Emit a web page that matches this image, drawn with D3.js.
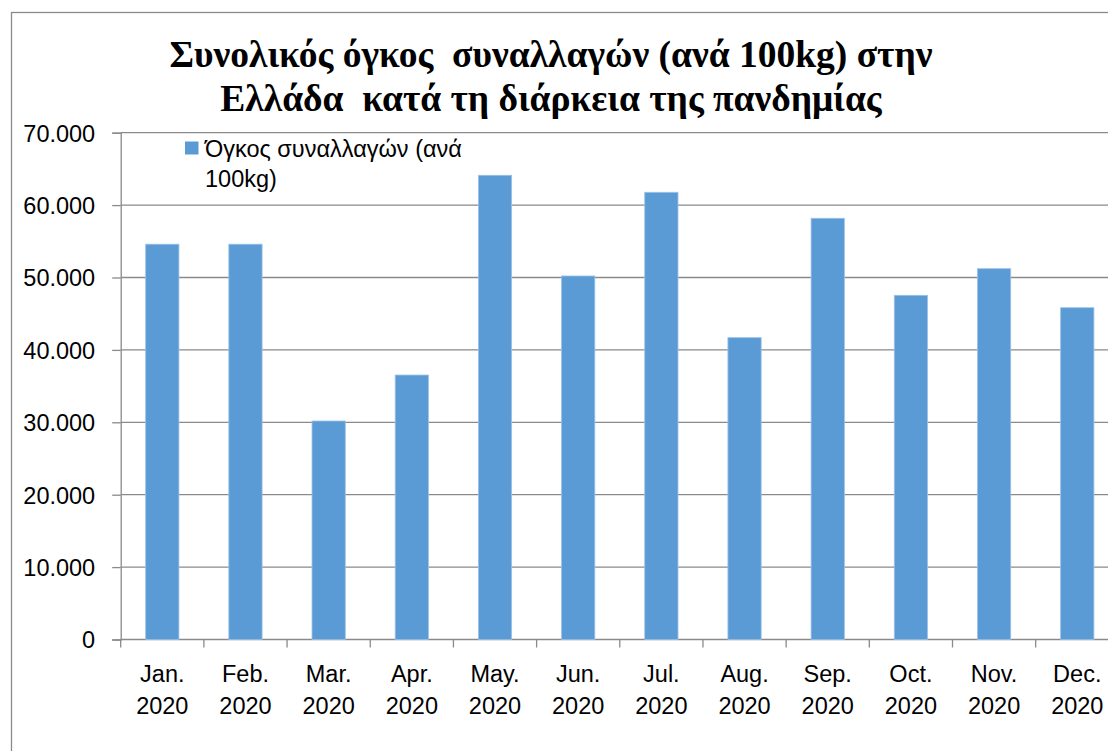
<!DOCTYPE html>
<html lang="el">
<head>
<meta charset="UTF-8">
<title>Συνολικός όγκος συναλλαγών</title>
<style>
  html, body { margin: 0; padding: 0; background: #fff; }
  svg { display: block; }
  .title { font-family: "Liberation Serif", "Times New Roman", serif; font-weight: bold; font-size: 37.5px; white-space: pre; }
  .lbl { font-family: "Liberation Sans", Arial, sans-serif; font-size: 23.5px; fill: #000; }
</style>
</head>
<body>
<svg id="chart"></svg>
<script src="https://cdn.jsdelivr.net/npm/d3@7"></script>
<script>
// data
const months = ["Jan.", "Feb.", "Mar.", "Apr.", "May.", "Jun.", "Jul.", "Aug.", "Sep.", "Oct.", "Nov.", "Dec."];
const year = "2020";
const volumes = [54600, 54600, 30180, 36530, 64120, 50210, 61770, 41690, 58180, 47540, 51220, 45830];
const yTicks = [0, 10000, 20000, 30000, 40000, 50000, 60000, 70000];
const titleLines = ["Συνολικός όγκος  συναλλαγών (ανά 100kg) στην", "Ελλάδα  κατά τη διάρκεια της πανδημίας"];
const legendLines = ["Όγκος συναλλαγών (ανά", "100kg)"];

const width = 1108, height = 751;
const plotLeft = 120.7, step = 83.18;
const plotRight = plotLeft + months.length * step;   // plot runs past the picture edge
const plotTop = 132.7, plotBottom = 639.5;
const grid = "#8a8a8a";
const barColor = "#5b9bd5";

const fmt = d3.formatLocale({decimal: ",", thousands: ".", grouping: [3], currency: ["", "€"]}).format(",");

const svg = d3.select("#chart").attr("width", width).attr("height", height);

// outer chart frame (cut at the right and bottom)
svg.append("rect")
  .attr("x", 11.5).attr("y", 12.5)
  .attr("width", 1300).attr("height", 900)
  .attr("fill", "none").attr("stroke", grid).attr("stroke-width", 1.3);

const x = d3.scaleBand().domain(months).range([plotLeft, plotRight]).paddingInner(0.6).paddingOuter(0.3);
const y = d3.scaleLinear().domain([0, 70000]).range([plotBottom, plotTop]);

// gridlines
svg.append("g")
  .selectAll("line")
  .data(yTicks)
  .join("line")
  .attr("x1", plotLeft).attr("x2", plotRight)
  .attr("y1", d => y(d)).attr("y2", d => y(d))
  .attr("stroke", grid).attr("stroke-width", 1.3);

// bars
svg.append("g")
  .selectAll("rect")
  .data(volumes)
  .join("rect")
  .attr("x", (d, i) => x(months[i]))
  .attr("y", d => y(d))
  .attr("width", x.bandwidth())
  .attr("height", d => y(0) - y(d))
  .attr("fill", barColor)
  .attr("stroke", "#9cc2e8").attr("stroke-width", 0.8);

// y axis
const yAxis = svg.append("g")
  .attr("transform", `translate(${plotLeft},0)`)
  .call(d3.axisLeft(y).tickValues(yTicks).tickFormat(fmt).tickSize(8.5).tickPadding(17));
yAxis.select(".domain").attr("stroke", grid).attr("stroke-width", 1.3);
yAxis.selectAll(".tick line").attr("stroke", grid).attr("stroke-width", 1.3);
yAxis.selectAll(".tick text").attr("class", "lbl").attr("dy", "0.36em");

// x axis: ticks on category boundaries
const xAxis = svg.append("g")
  .attr("transform", `translate(0,${plotBottom})`);
xAxis.selectAll("line")
  .data(d3.range(months.length + 1))
  .join("line")
  .attr("x1", i => plotLeft + i * step).attr("x2", i => plotLeft + i * step)
  .attr("y1", 0).attr("y2", 8)
  .attr("stroke", grid).attr("stroke-width", 1.3);

const xl = xAxis.selectAll("text")
  .data(months)
  .join("text")
  .attr("class", "lbl")
  .attr("text-anchor", "middle");
xl.append("tspan").attr("x", d => x(d) + x.bandwidth() / 2).attr("y", 42.2).text(d => d);
xl.append("tspan").attr("x", d => x(d) + x.bandwidth() / 2).attr("y", 74.5).text(year);

// title
svg.append("text")
  .attr("class", "title")
  .attr("text-anchor", "middle")
  .selectAll("tspan")
  .data(titleLines)
  .join("tspan")
  .attr("x", 551)
  .attr("y", (d, i) => 66.7 + i * 44)
  .text(d => d);

// legend
svg.append("rect")
  .attr("x", 185).attr("y", 141.5)
  .attr("width", 13.5).attr("height", 13)
  .attr("fill", barColor);
svg.append("text")
  .attr("class", "lbl")
  .selectAll("tspan")
  .data(legendLines)
  .join("tspan")
  .attr("x", 205)
  .attr("y", (d, i) => 156.7 + i * 30.6)
  .text(d => d);
</script>
</body>
</html>
